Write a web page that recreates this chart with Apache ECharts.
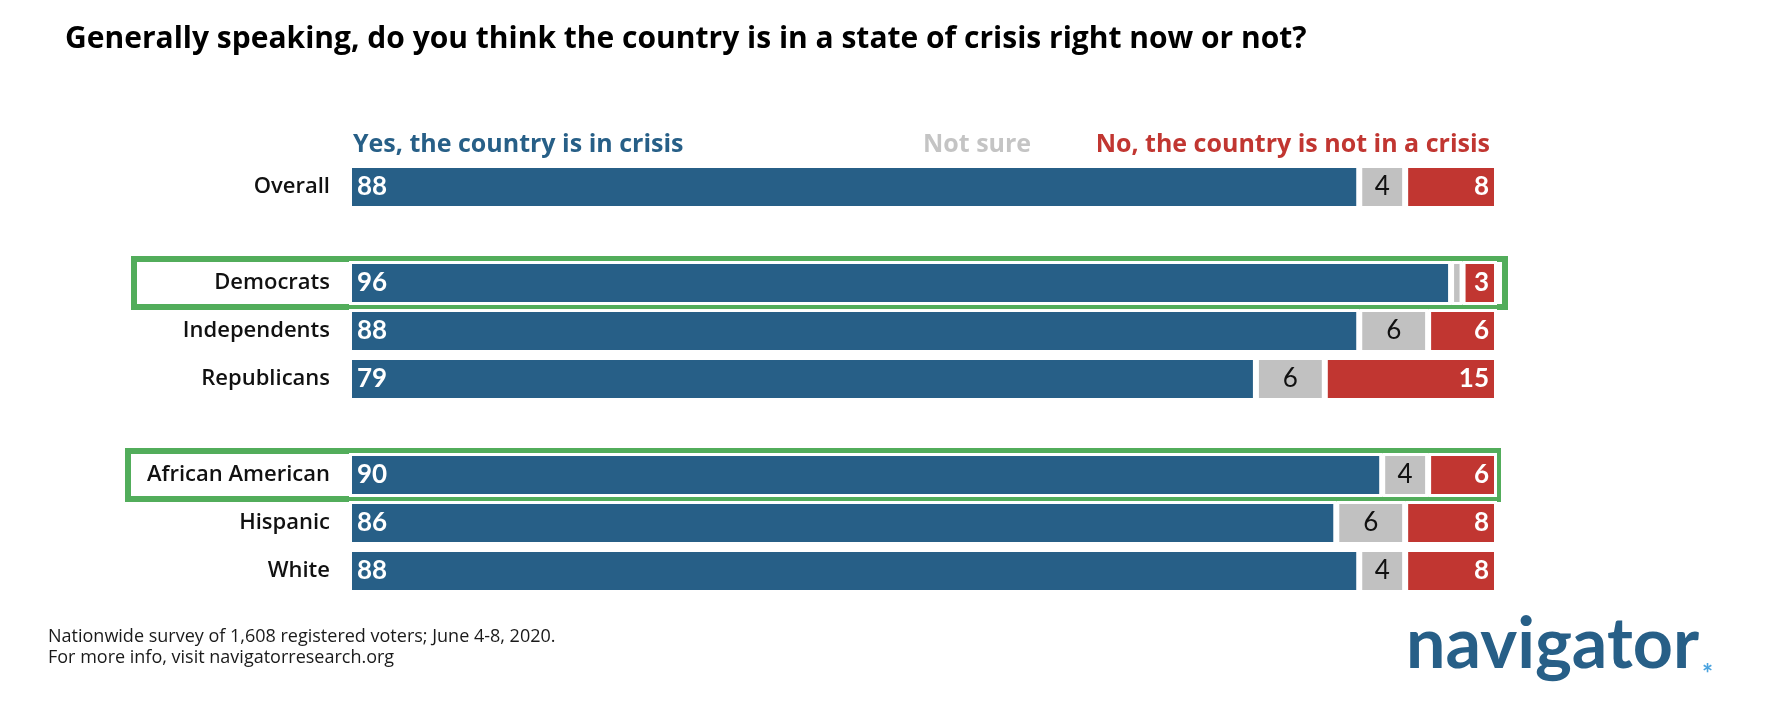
<!DOCTYPE html>
<html>
<head>
<meta charset="utf-8">
<script src="https://cdn.jsdelivr.net/npm/echarts@6/dist/echarts.min.js"></script>
<style>
  html, body { margin: 0; padding: 0; background: #fff; }
  #main { width: 1770px; height: 726px; }
</style>
</head>
<body>
<div id="main"></div>
<script>
var categories = ['Overall', '', 'Democrats', 'Independents', 'Republicans', '', 'African American', 'Hispanic', 'White'];
var yesValues = [88, null, 96, 88, 79, null, 90, 86, 88];
var notSureValues = [4, null, 1, 6, 6, null, 4, 6, 4];
var noValues = [8, null, 3, 6, 15, null, 6, 8, 8];

var blue = '#275f87';
var grey = '#c1c1c1';
var red = '#c13631';
var green = '#52ad5b';
var font = '"Open Sans", Lato, sans-serif';
var numFont = 'Lato, "Open Sans", sans-serif';

var myChart = echarts.init(document.getElementById('main'));

var option = {
    backgroundColor: '#fff',
    textStyle: { fontFamily: font },
    grid: { left: 349, width: 1148, top: 163, height: 432 },
    xAxis: {
        type: 'value',
        min: 0,
        max: 100,
        show: false
    },
    yAxis: {
        type: 'category',
        data: categories,
        inverse: true,
        axisLine: { show: false },
        axisTick: { show: false },
        axisLabel: {
            margin: 19,
            fontSize: 22,
            fontWeight: 600,
            color: '#111',
            fontFamily: font
        }
    },
    series: [
        {
            name: 'Yes',
            type: 'bar',
            stack: 'all',
            barWidth: 44,
            data: yesValues,
            itemStyle: { color: blue, borderColor: '#fff', borderWidth: 3 },
            label: {
                show: true,
                position: 'insideLeft',
                distance: 8,
                color: '#fff',
                fontSize: 26,
                fontWeight: 'bold',
                fontFamily: numFont
            }
        },
        {
            name: 'Not sure',
            type: 'bar',
            stack: 'all',
            barWidth: 44,
            data: notSureValues,
            itemStyle: { color: grey, borderColor: '#fff', borderWidth: 3 },
            label: {
                show: true,
                position: 'inside',
                color: '#111',
                fontSize: 26,
                fontFamily: numFont,
                formatter: function (p) { return p.value > 1 ? p.value : ''; }
            }
        },
        {
            name: 'No',
            type: 'bar',
            stack: 'all',
            barWidth: 44,
            data: noValues,
            itemStyle: { color: red, borderColor: '#fff', borderWidth: 3 },
            label: {
                show: true,
                position: 'insideRight',
                distance: 8,
                color: '#fff',
                fontSize: 26,
                fontWeight: 'bold',
                fontFamily: numFont
            }
        }
    ],
    graphic: [
        {
            type: 'text', left: 65, top: 24,
            style: { text: 'Generally speaking, do you think the country is in a state of crisis right now or not?',
                     font: 'bold 30px ' + font, fill: '#000' }
        },
        {
            type: 'text', left: 353, top: 132,
            style: { text: 'Yes, the country is in crisis', font: 'bold 25px ' + font, fill: blue }
        },
        {
            type: 'text', left: 923, top: 132,
            style: { text: 'Not sure', font: 'bold 25px ' + font, fill: '#c4c4c4' }
        },
        {
            type: 'text', right: 280, top: 132,
            style: { text: 'No, the country is not in a crisis', font: 'bold 25px ' + font, fill: red }
        },
        {
            type: 'rect',
            shape: { x: 134, y: 259, width: 1371, height: 48 },
            style: { fill: 'none', stroke: green, lineWidth: 6 }
        },
        {
            type: 'rect',
            shape: { x: 128, y: 451, width: 1370, height: 48 },
            style: { fill: 'none', stroke: green, lineWidth: 6 }
        },
        {
            type: 'text', left: 48, top: 626,
            style: { text: 'Nationwide survey of 1,608 registered voters; June 4-8, 2020.\nFor more info, visit navigatorresearch.org',
                     font: '18px ' + font, fill: '#1a1a1a', lineHeight: 21 }
        },
        {
            type: 'text', left: 1406, top: 610,
            style: { text: 'navigator', font: 'bold 70px ' + numFont, fill: blue }
        },
        {
            type: 'text', left: 1702, top: 662,
            style: { text: '*', font: 'bold 26px ' + numFont, fill: '#4aa3df' }
        }
    ]
};

myChart.setOption(option);
</script>
</body>
</html>
